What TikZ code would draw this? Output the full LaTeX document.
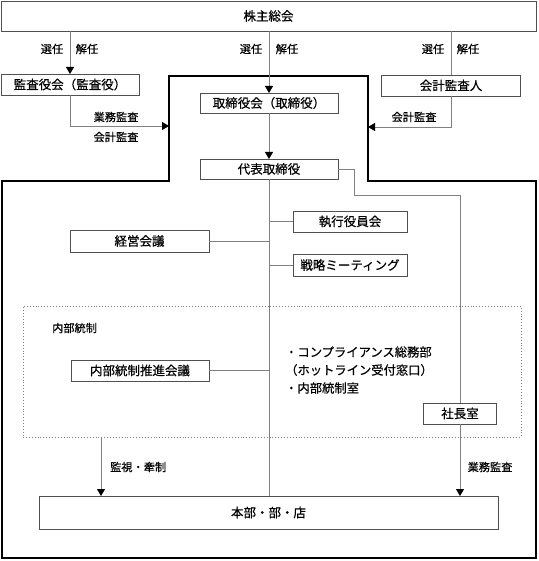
\documentclass[tikz,border=0pt]{standalone}
\usepackage{fontspec}
\setmainfont{Noto Sans CJK JP}[BoldFont={Noto Sans CJK JP},BoldFeatures={FakeBold=0.5}]
\usetikzlibrary{arrows.meta}
\definecolor{boxc}{HTML}{505050}
\definecolor{linec}{HTML}{808080}
\tikzset{
  box/.style={draw=boxc, fill=white, line width=0.9pt, inner sep=0pt, outer sep=0pt,
    font=\fontsize{12.5}{14}\selectfont\bfseries},
  lbl/.style={inner sep=0pt, font=\fontsize{11.2}{13}\selectfont\bfseries},
  conn/.style={draw=linec, line width=0.9pt},
  arr/.style={conn, -{Triangle[width=8pt,length=7pt,color=black]}},
  thickb/.style={draw=black, line width=2pt},
  ctrl/.style={draw=linec, dotted, line width=0.9pt, inner sep=0pt}
}
\begin{document}
\begin{tikzpicture}[x=1pt,y=-1pt]
\useasboundingbox (0,0) rectangle (538,561);
% thick boundary of the company
\draw[thickb] (169,76) -- (368,76) -- (368,181) -- (536,181) -- (536,558) -- (2,558) -- (2,181) -- (169,181) -- cycle;
\coordinate (bL) at (169,126);
\coordinate (bR) at (368,127);
% internal control frame
\node[ctrl, minimum width=498pt, minimum height=131pt] (ctrlbox) at (272,371.5) {};
\node[lbl, anchor=west] (ctrllbl) at (52,328) {内部統制};

% boxes
\node[box, minimum width=535pt, minimum height=30pt] (top) at (268.5,16) {株主総会};
\node[box, minimum width=138pt, minimum height=21pt] (kansa) at (70,84.5) {監査役会（監査役）};
\node[box, minimum width=138pt, minimum height=20pt] (tori) at (269,103) {取締役会（取締役）};
\node[box, minimum width=138pt, minimum height=20pt] (daihyo) at (269,169) {代表取締役};
\node[box, minimum width=139pt, minimum height=21pt] (kaikei) at (451,85.5) {会計監査人};
\node[box, minimum width=114pt, minimum height=21pt] (shikko) at (350,221.5) {執行役員会};
\node[box, minimum width=114pt, minimum height=22pt] (senryaku) at (350,265) {戦略ミーティング};
\node[box, minimum width=139pt, minimum height=22pt] (keiei) at (139.5,241) {経営会議};
\node[box, minimum width=138pt, minimum height=21pt] (naibu) at (140,370.5) {内部統制推進会議};
\node[box, minimum width=73pt, minimum height=21pt] (shachou) at (460,413.5) {社長室};
\node[box, minimum width=459pt, minimum height=33pt] (honbu) at (268.5,512.5) {本部・部・店};

% list text
\node[lbl, anchor=west, font=\fontsize{12.3}{14}\selectfont\bfseries] (l1) at (285,352) {・コンプライアンス総務部};
\node[lbl, anchor=west, font=\fontsize{12.3}{14}\selectfont\bfseries] (l2) at (285,370) {（ホットライン受付窓口）};
\node[lbl, anchor=west, font=\fontsize{12.3}{14}\selectfont\bfseries] (l3) at (285,388) {・内部統制室};

% shareholder connectors
\draw[arr] (top.south -| kansa) -- (kansa.north);
\draw[arr] (top.south -| tori) -- (tori.north);
\draw[conn] (top.south -| kaikei) -- (kaikei.north);
\node[lbl] (s1) at (52,49) {選任};
\node[lbl] (d1) at (87,49) {解任};
\node[lbl] (s2) at (251,49) {選任};
\node[lbl] (d2) at (287,49) {解任};
\node[lbl] (s3) at (433,49) {選任};
\node[lbl] (d3) at (468,49) {解任};

% audits into the company
\draw[arr] (kansa.south) |- (bL);
\node[lbl] (a1) at (116,117) {業務監査};
\node[lbl] (a2) at (116,137) {会計監査};
\draw[arr] (kaikei.south) |- (bR);
\node[lbl] (a3) at (414,117) {会計監査};

% board to representative
\draw[arr] (tori.south) -- (daihyo.north);

% trunk
\draw[conn] (daihyo.south) -- (daihyo.south |- honbu.north);
\draw[conn] (shikko.west) -- (shikko.west -| daihyo.south);
\draw[conn] (senryaku.west) -- (senryaku.west -| daihyo.south);
\draw[conn] (keiei.east) -- (keiei.east -| daihyo.south);
\draw[conn] (naibu.east) -- (naibu.east -| daihyo.south);

% president's office
\coordinate (p1) at (354,169);
\coordinate (p2) at (354,195);
\draw[conn] (daihyo.east) -- (p1) -- (p2) -| (shachou.north);
\draw[arr] (shachou.south) -- (shachou.south |- honbu.north);
\node[lbl] (a4) at (490,467) {業務監査};

% monitoring
\coordinate (m1) at (101,437);
\draw[arr] (m1) -- (m1 |- honbu.north);
\node[lbl, anchor=west] (a5) at (110,467) {監視・牽制};
\end{tikzpicture}
\end{document}
